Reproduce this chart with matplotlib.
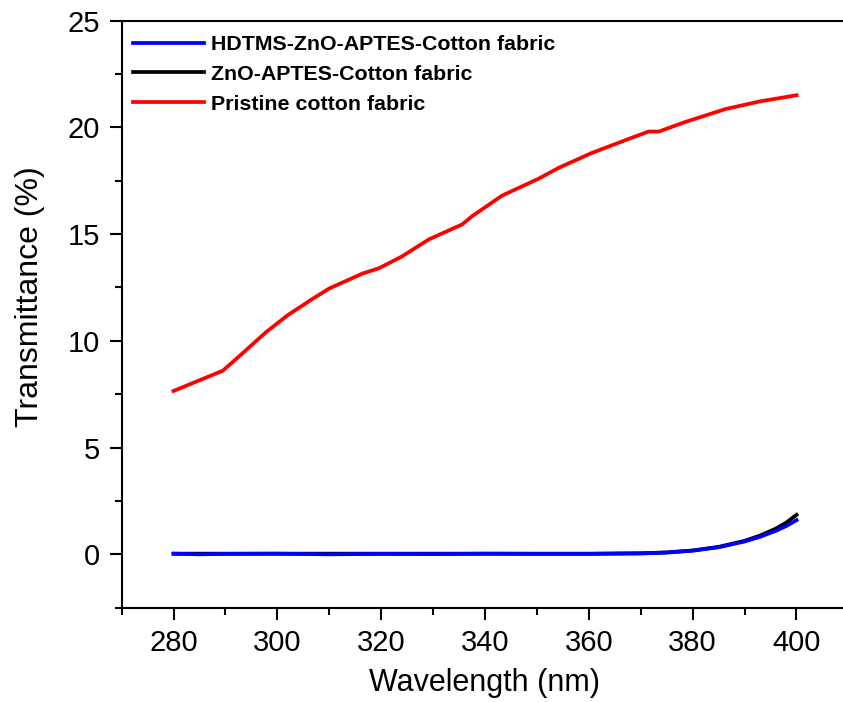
import numpy as np
import matplotlib
matplotlib.use("Agg")
import matplotlib.pyplot as plt

plt.rcParams["font.family"] = ["Liberation Sans", "DejaVu Sans"]

# readings
wl_red = [280, 285, 289.5, 293, 297.8, 302, 306.7, 310, 316.4, 319.6, 324, 329.2,
          335.6, 337.6, 343.3, 350.4, 354.2, 360.6, 367.1, 371.5, 373.5, 378.6,
          386.3, 392.7, 400]
t_red = [7.65, 8.15, 8.6, 9.35, 10.4, 11.2, 11.95, 12.45, 13.15, 13.4, 13.95, 14.75,
         15.45, 15.85, 16.8, 17.6, 18.1, 18.8, 19.4, 19.8, 19.8, 20.25,
         20.85, 21.2, 21.5]

wl_uv = [280, 285, 290, 300, 310, 320, 330, 340, 350, 360, 370, 375, 380, 385,
         390, 393, 396, 398, 400]
t_blue = [0.03, 0.0, 0.02, 0.03, 0.0, 0.02, 0.01, 0.03, 0.02, 0.02, 0.04, 0.08,
          0.17, 0.33, 0.6, 0.82, 1.1, 1.32, 1.6]
t_black = [0.03, 0.03, 0.03, 0.03, 0.03, 0.03, 0.03, 0.03, 0.03, 0.03, 0.05, 0.09,
           0.18, 0.35, 0.63, 0.88, 1.2, 1.48, 1.85]

labels = ["HDTMS-ZnO-APTES-Cotton fabric", "ZnO-APTES-Cotton fabric",
          "Pristine cotton fabric"]

fig = plt.figure(figsize=(8.43, 7.02), dpi=100)
ax = fig.add_axes([121.6 / 843, 1 - 607.7 / 702, 726.8 / 843, 587.2 / 702])

ax.plot(wl_uv, t_black, color="black", lw=2.7, label=labels[1], zorder=2)
ax.plot(wl_uv, t_blue, color="#0000ff", lw=2.7, label=labels[0], zorder=3)
ax.plot(wl_red, t_red, color="#ff0000", lw=2.7, label=labels[2], zorder=2)

ax.set_xlim(270, 410)
ax.set_ylim(-2.5, 25)
ax.set_xticks([280, 300, 320, 340, 360, 380, 400])
ax.set_xticks(np.arange(270, 411, 10), minor=True)
ax.set_yticks([0, 5, 10, 15, 20, 25])
ax.set_yticks(np.arange(-2.5, 25.1, 2.5), minor=True)

ax.spines["right"].set_visible(False)
for s in ["left", "bottom", "top"]:
    ax.spines[s].set_linewidth(1.5)
ax.tick_params(which="major", direction="out", length=8.5, width=1.5,
               labelsize=21, pad=7)
ax.tick_params(which="minor", direction="out", length=5, width=1.5)
ax.tick_params(top=False, right=False, which="both")

ax.set_xlabel("Wavelength (nm)", fontsize=22, labelpad=8)
ax.set_ylabel("Transmittance (%)", fontsize=23)
ax.yaxis.set_label_coords(-0.105, 0.53)

h, l = ax.get_legend_handles_labels()
order = [l.index(t) for t in labels]
ax.legend([h[i] for i in order], [l[i] for i in order], loc="upper left",
          bbox_to_anchor=(0.0157, 0.975), frameon=False, borderaxespad=0,
          borderpad=0, handlelength=3.3, handletextpad=0.35, labelspacing=0.5,
          prop={"weight": "bold", "size": 15.4})

fig.savefig("out.png", dpi=100)
